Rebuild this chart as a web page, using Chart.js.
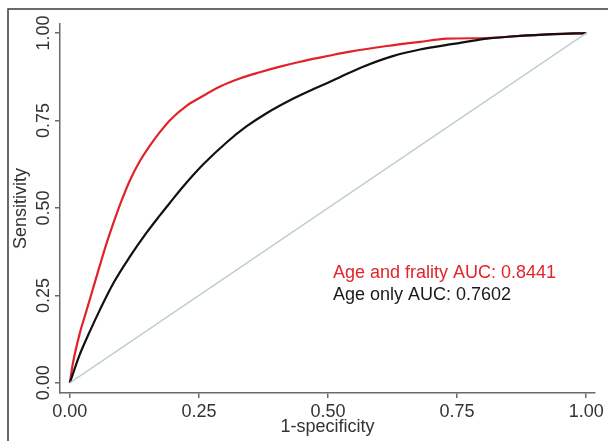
<!DOCTYPE html>
<html>
<head>
<meta charset="utf-8">
<script src="https://cdn.jsdelivr.net/npm/chart.js@4"></script>
<style>
  html, body { margin: 0; padding: 0; background: #fff; }
  #wrap { width: 608px; height: 441px; }
</style>
</head>
<body>
<div id="wrap"><canvas id="roc"></canvas></div>
<script>
// ROC curves
const fprFrailty = [0, 0.006, 0.019, 0.032, 0.045, 0.058, 0.071, 0.084, 0.100, 0.116, 0.136, 0.155, 0.174, 0.194, 0.226, 0.252, 0.291, 0.329, 0.368, 0.407, 0.446, 0.484, 0.504, 0.543, 0.614, 0.678, 0.730, 0.808, 0.872, 0.937, 1.0];
const tprFrailty = [0, 0.056, 0.140, 0.205, 0.270, 0.335, 0.398, 0.455, 0.520, 0.578, 0.635, 0.678, 0.716, 0.751, 0.792, 0.815, 0.847, 0.870, 0.888, 0.904, 0.918, 0.930, 0.936, 0.947, 0.963, 0.975, 0.984, 0.986, 0.992, 0.997, 1.0];

const fprAge = [0, 0.019, 0.039, 0.058, 0.084, 0.116, 0.149, 0.174, 0.194, 0.220, 0.258, 0.304, 0.342, 0.381, 0.433, 0.472, 0.504, 0.523, 0.568, 0.627, 0.678, 0.743, 0.808, 0.872, 0.937, 1.0];
const tprAge = [0, 0.080, 0.148, 0.208, 0.284, 0.360, 0.430, 0.478, 0.515, 0.562, 0.624, 0.688, 0.733, 0.771, 0.813, 0.840, 0.861, 0.874, 0.904, 0.935, 0.953, 0.969, 0.984, 0.992, 0.997, 1.0];

const tickValues = [0, 0.25, 0.5, 0.75, 1];
const legendLines = ['Age and frality AUC: 0.8441', 'Age only AUC: 0.7602'];

const toPoints = (xs, ys) => xs.map((x, i) => ({ x: x, y: ys[i] }));

const font = 'Liberation Sans, Arial, sans-serif';
const axisColor = '#6a6a6a';

// frame, rotated y labels and AUC text
const extras = {
  id: 'extras',
  beforeDraw(chart) {
    const ctx = chart.ctx;
    ctx.save();
    ctx.strokeStyle = '#3a3a3a';
    ctx.lineWidth = 1.5;
    ctx.strokeRect(8, 9, 700, 500);
    ctx.restore();
  },
  afterDraw(chart) {
    const ctx = chart.ctx;
    const y = chart.scales.y;
    ctx.save();
    ctx.fillStyle = '#333';
    ctx.font = '18px ' + font;
    ctx.textAlign = 'center';
    ctx.textBaseline = 'middle';
    y.ticks.forEach(t => {
      const py = y.getPixelForValue(t.value);
      ctx.save();
      ctx.translate(44, py);
      ctx.rotate(-Math.PI / 2);
      ctx.fillText(t.value.toFixed(2), 0, 0);
      ctx.restore();
    });
    ctx.textAlign = 'left';
    ctx.textBaseline = 'alphabetic';
    ctx.fillStyle = '#e3242b';
    ctx.fillText(legendLines[0], 333, 278);
    ctx.fillStyle = '#1a1a1a';
    ctx.fillText(legendLines[1], 333, 300);
    ctx.restore();
  }
};

const ctx = document.getElementById('roc');

new Chart(ctx, {
  type: 'line',
  data: {
    datasets: [
      {
        label: 'Reference',
        data: toPoints([0, 1], [0, 1]),
        borderColor: '#b9cfcd',
        borderWidth: 1.3,
        pointRadius: 0
      },
      {
        label: 'Age only',
        data: toPoints(fprAge, tprAge),
        borderColor: '#111111',
        borderWidth: 2.2,
        pointRadius: 0,
        cubicInterpolationMode: 'monotone'
      },
      {
        label: 'Age and frality',
        data: toPoints(fprFrailty, tprFrailty),
        borderColor: '#e0232a',
        borderWidth: 2.2,
        pointRadius: 0,
        cubicInterpolationMode: 'monotone'
      }
    ]
  },
  options: {
    responsive: true,
    maintainAspectRatio: false,
    animation: false,
    layout: { padding: { top: 24, right: 13, bottom: 0, left: 0 } },
    plugins: {
      legend: { display: false },
      tooltip: { enabled: false }
    },
    scales: {
      x: {
        type: 'linear',
        min: -0.019,
        max: 1.017,
        afterBuildTicks: s => { s.ticks = tickValues.map(v => ({ value: v })); },
        afterFit: s => { s.height = 48; },
        ticks: {
          callback: v => v.toFixed(2),
          color: '#333',
          font: { family: font, size: 18 },
          padding: 3,
          maxRotation: 0
        },
        grid: { display: true, drawOnChartArea: false, drawTicks: true, tickLength: 5, color: axisColor, lineWidth: 1.5 },
        border: { display: true, color: axisColor, width: 1.5 },
        title: {
          display: true,
          text: '1-specificity',
          color: '#333',
          font: { family: font, size: 18 },
          padding: { top: 0, bottom: 3 }
        }
      },
      y: {
        type: 'linear',
        min: -0.029,
        max: 1.026,
        afterBuildTicks: s => { s.ticks = tickValues.map(v => ({ value: v })); },
        afterFit: s => { s.width = 60; },
        ticks: { display: false },
        grid: { display: true, drawOnChartArea: false, drawTicks: true, tickLength: 5, color: axisColor, lineWidth: 1.5 },
        border: { display: true, color: axisColor, width: 1.5 },
        title: {
          display: true,
          text: 'Sensitivity',
          color: '#333',
          font: { family: font, size: 18 },
          padding: { top: 10, bottom: 0 }
        }
      }
    }
  },
  plugins: [extras]
});
</script>
</body>
</html>
